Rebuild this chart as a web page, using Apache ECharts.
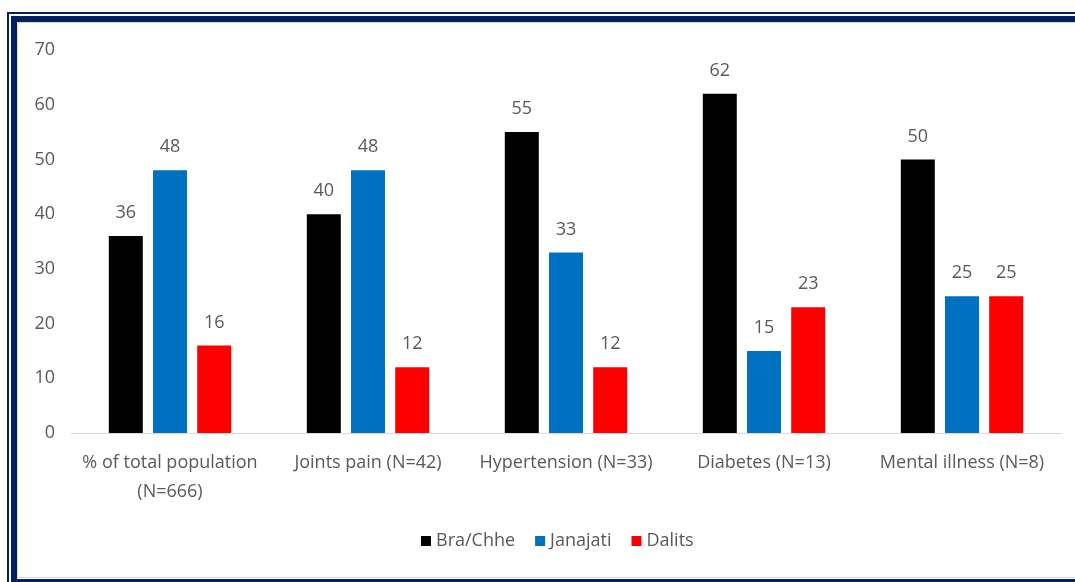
<!DOCTYPE html>
<html>
<head>
<meta charset="utf-8">
<script src="https://cdn.jsdelivr.net/npm/echarts@6/dist/echarts.min.js"></script>
<style>
html,body{margin:0;padding:0;background:#fff;}
#wrap{position:relative;width:1075px;height:582px;overflow:hidden;background:#fff;}
.b{position:absolute;background:#002060;}
#chart{position:absolute;left:0;top:0;width:1075px;height:582px;}
</style>
</head>
<body>
<div id="wrap">
  <div class="b" style="left:7px;top:12px;width:2px;height:600px;"></div>
  <div class="b" style="left:7px;top:12px;width:1100px;height:2px;"></div>
  <div class="b" style="left:11px;top:16px;width:6px;height:600px;"></div>
  <div class="b" style="left:11px;top:16px;width:1100px;height:6px;"></div>
  <div style="position:absolute;left:17px;top:22px;width:1px;height:556px;background:#d9d9d9;"></div>
  <div style="position:absolute;left:17px;top:22px;width:1100px;height:1px;background:#d9d9d9;"></div>
  <div style="position:absolute;left:17px;top:577px;width:1100px;height:1px;background:#d9d9d9;"></div>
  <div class="b" style="left:11px;top:579px;width:1100px;height:6px;"></div>
  <div id="chart"></div>
</div>
<script>
var categories = ['% of total population\n(N=666)', 'Joints pain (N=42)', 'Hypertension (N=33)', 'Diabetes (N=13)', 'Mental illness (N=8)'];
var seriesNames = ['Bra/Chhe', 'Janajati', 'Dalits'];
var braChhe = [36, 40, 55, 62, 50];
var janajati = [48, 48, 33, 15, 25];
var dalits = [16, 12, 12, 23, 25];
var yTicks = [0, 10, 20, 30, 40, 50, 60, 70];
var colors = ['#000000', '#0070C0', '#FF0000'];

var font = 'Open Sans';
var textColor = '#595959';
var chart = echarts.init(document.getElementById('chart'), null, {renderer: 'canvas'});
var values = [braChhe, janajati, dalits];
chart.setOption({
  animation: false,
  backgroundColor: 'transparent',
  color: colors,
  grid: {left: 71, right: 14, top: 50, bottom: 149, containLabel: false},
  legend: {
    data: seriesNames,
    bottom: 27,
    left: 416,
    itemWidth: 10,
    itemHeight: 10,
    itemGap: 20,
    icon: 'rect',
    textStyle: {color: textColor, fontFamily: font, fontSize: 18}
  },
  xAxis: {
    type: 'category',
    data: categories,
    axisLine: {lineStyle: {color: '#d9d9d9', width: 1}},
    axisTick: {show: false},
    axisLabel: {color: textColor, fontFamily: font, fontSize: 18, lineHeight: 29, margin: 15, interval: 0}
  },
  yAxis: {
    type: 'value',
    min: yTicks[0],
    max: yTicks[yTicks.length - 1],
    interval: 10,
    axisLine: {show: false},
    axisTick: {show: false},
    splitLine: {show: false},
    axisLabel: {color: textColor, fontFamily: font, fontSize: 18, margin: 16}
  },
  series: seriesNames.map(function (n, i) {
    return {
      name: n,
      type: 'bar',
      data: values[i],
      barWidth: 34,
      barGap: '30%',
      label: {show: true, position: 'top', distance: 14, color: textColor, fontFamily: font, fontSize: 18}
    };
  })
});
</script>
</body>
</html>
